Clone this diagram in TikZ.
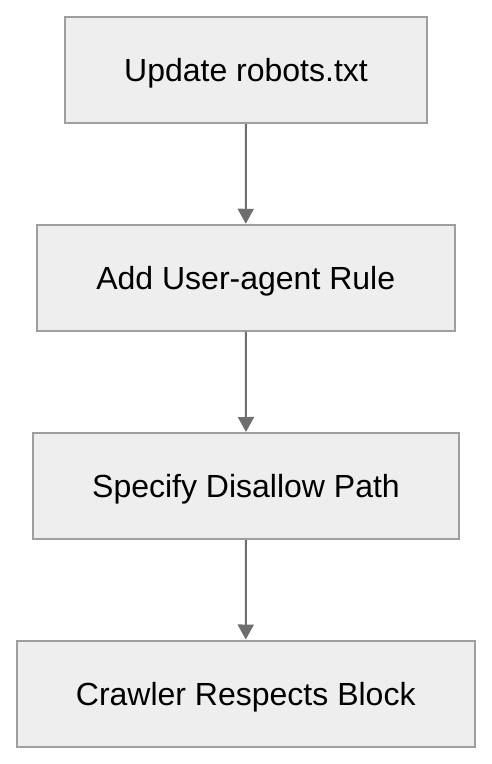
\documentclass[tikz,border=0pt]{standalone}
\usepackage{fontspec}
\setmainfont{Liberation Sans}
\usetikzlibrary{arrows.meta}
\definecolor{boxfill}{HTML}{EEEEEE}
\definecolor{boxline}{HTML}{9E9E9E}
\definecolor{arrowgray}{HTML}{6E6E6E}

\begin{document}
\begin{tikzpicture}[x=1pt,y=-1pt,
	stepbox/.style={draw=boxline,fill=boxfill,line width=2pt,inner sep=0pt,
		minimum height=106pt,text height=23pt,text depth=0pt,
		font=\fontsize{32}{38}\selectfont},
	flow/.style={draw=arrowgray,line width=2pt,-{Triangle[width=16pt,length=15pt]}}]
			\useasboundingbox(0,0)rectangle(492,764);
			\node[stepbox,minimum width=362pt](upd)at(246,70){Update robots.txt};
			\node[stepbox,minimum width=418pt](agent)at(245.75,277.75){Add User-agent Rule};
			\node[stepbox,minimum width=426pt](path)at(246,486){Specify Disallow Path};
			\node[stepbox,minimum width=458pt](crawl)at(245.75,693.5){Crawler Respects Block};
			\draw[flow](upd.south)--(agent.north);
			\draw[flow](agent.south)--(path.north);
			\draw[flow](path.south)--(crawl.north);
			\end{tikzpicture}
\end{document}
